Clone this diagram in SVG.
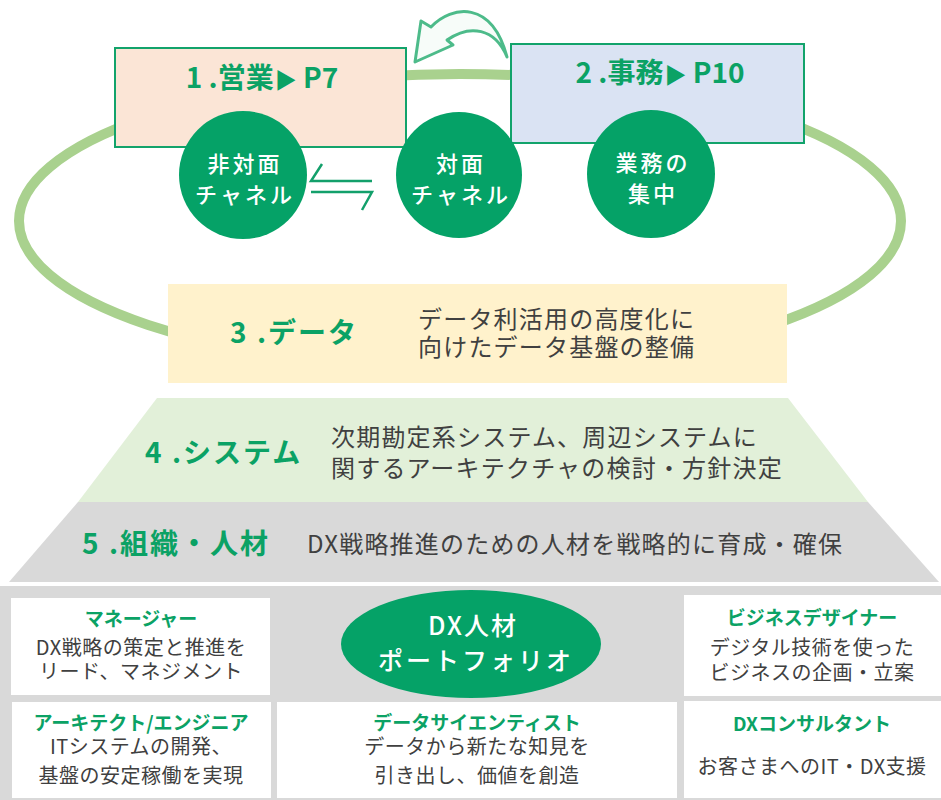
<svg xmlns="http://www.w3.org/2000/svg" width="941" height="800" viewBox="0 0 941 800">
<defs>
<style>
.t{font-family:"Noto Sans CJK JP","Noto Sans",sans-serif}
.box{stroke:#12A36B;stroke-width:2}
.head{font-size:28px;font-weight:700;fill:#0BA265;text-anchor:middle}
.tri{font-size:22px}
.circ{fill:#05A267}
.ctext{font-size:22px;font-weight:500;fill:#fff;text-anchor:middle;letter-spacing:3px}
.lvl{font-size:28px;font-weight:700;fill:#0BA265;letter-spacing:2px}
.desc{font-size:24px;fill:#404040;letter-spacing:1.2px}
.cell{fill:#fff}
.ctitle{font-size:19px;font-weight:700;fill:#0BA265;text-anchor:middle}
.cbody{font-size:20px;fill:#404040;text-anchor:middle;letter-spacing:0.5px}
</style>
<filter id="soft" x="-10%" y="-10%" width="120%" height="120%"><feGaussianBlur stdDeviation="0.7"/></filter>
</defs>
<rect width="941" height="800" fill="#fff"/>

<g id="cycle-ring">
<ellipse cx="460" cy="221" rx="441" ry="147" fill="none" stroke="#A9D18E" stroke-width="10"/>
</g>

<g id="return-arrow">
<path d="M415,62 L421,21 L431,27 C452,5 492,0 507,57 C495,28 470,24 447,40 L453,45 Z" fill="#F7FCF9" stroke="#4DBB8A" stroke-width="3" stroke-linejoin="round" filter="url(#soft)"/>
</g>

<g id="node-sales">
<rect class="box" x="115" y="48" width="291" height="99" fill="#FBE5D6"/>
<text class="t head" x="262" y="88">1 .営業<tspan class="tri" dx="1">▶</tspan> P7</text>
</g>

<g id="node-office">
<rect class="box" x="511" y="44" width="293" height="99" fill="#DAE3F3"/>
<text class="t head" x="660" y="83">2 .事務<tspan class="tri" dx="1">▶</tspan> P10</text>
</g>

<g id="connectors">
<path d="M322,164 L311,181 L372,181" fill="none" stroke="#13A06B" stroke-width="2.5"/>
<path d="M311,192 L372,192 L362,210" fill="none" stroke="#13A06B" stroke-width="2.5"/>
</g>

<g id="node-nonface">
<circle class="circ" cx="243" cy="175" r="64"/>
<text class="t ctext" x="245" y="172">非対面</text>
<text class="t ctext" x="245" y="203">チャネル</text>
</g>

<g id="node-face">
<circle class="circ" cx="459" cy="175" r="63"/>
<text class="t ctext" x="461" y="172">対面</text>
<text class="t ctext" x="461" y="203">チャネル</text>
</g>

<g id="node-focus">
<circle class="circ" cx="651" cy="174" r="64"/>
<text class="t ctext" x="653" y="171">業務の</text>
<text class="t ctext" x="653" y="202">集中</text>
</g>

<g id="node-data">
<rect x="168" y="284" width="619" height="99" fill="#FFF2CC"/>
<text class="t lvl" x="230" y="343">3 .データ</text>
<text class="t desc" x="418" y="328">データ利活用の高度化に</text>
<text class="t desc" x="418" y="356">向けたデータ基盤の整備</text>
</g>

<g id="node-system">
<path d="M157,398 L788,398 L868,502 L78,502 Z" fill="#E2F0D9"/>
<text class="t lvl" x="145" y="463">4 .システム</text>
<text class="t desc" x="331" y="446">次期勘定系システム、周辺システムに</text>
<text class="t desc" x="331" y="477" letter-spacing="0.6">関するアーキテクチャの検討・方針決定</text>
</g>

<g id="node-org">
<path d="M78,502 L868,502 L939,582 L9,582 Z" fill="#D9D9D9"/>
<text class="t lvl" x="82" y="554">5 .組織・人材</text>
<text class="t desc" x="307" y="553">DX戦略推進のための人材を戦略的に育成・確保</text>
</g>

<g id="portfolio-panel">
<rect x="0" y="586" width="941" height="214" fill="#D9D9D9"/>
</g>

<g id="cell-manager">
<rect class="cell" x="11" y="598" width="259" height="97"/>
<text class="t ctitle" x="141" y="626">マネージャー</text>
<text class="t cbody" x="141" y="655">DX戦略の策定と推進を</text>
<text class="t cbody" x="141" y="679">リード、マネジメント</text>
</g>

<g id="cell-architect">
<rect class="cell" x="12" y="702" width="259" height="96"/>
<text class="t ctitle" x="141" y="730">アーキテクト/エンジニア</text>
<text class="t cbody" x="141" y="754">ITシステムの開発、</text>
<text class="t cbody" x="141" y="783">基盤の安定稼働を実現</text>
</g>

<g id="cell-scientist">
<rect class="cell" x="277" y="702" width="400" height="96"/>
<text class="t ctitle" x="477" y="730">データサイエンティスト</text>
<text class="t cbody" x="477" y="754">データから新たな知見を</text>
<text class="t cbody" x="477" y="783">引き出し、価値を創造</text>
</g>

<g id="cell-designer">
<rect class="cell" x="684" y="595" width="257" height="101"/>
<text class="t ctitle" x="812" y="625">ビジネスデザイナー</text>
<text class="t cbody" x="812" y="655">デジタル技術を使った</text>
<text class="t cbody" x="812" y="680">ビジネスの企画・立案</text>
</g>

<g id="cell-consultant">
<rect class="cell" x="684" y="701" width="257" height="97"/>
<text class="t ctitle" x="812" y="731">DXコンサルタント</text>
<text class="t cbody" x="812" y="774">お客さまへのIT・DX支援</text>
</g>

<g id="node-portfolio">
<ellipse cx="471" cy="644" rx="130" ry="54" fill="#05A267"/>
<text class="t" x="473" y="635" font-size="25" font-weight="500" fill="#fff" text-anchor="middle" letter-spacing="2">DX人材</text>
<text class="t" x="476" y="670" font-size="25" font-weight="500" fill="#fff" text-anchor="middle" letter-spacing="3">ポートフォリオ</text>
</g>
</svg>
